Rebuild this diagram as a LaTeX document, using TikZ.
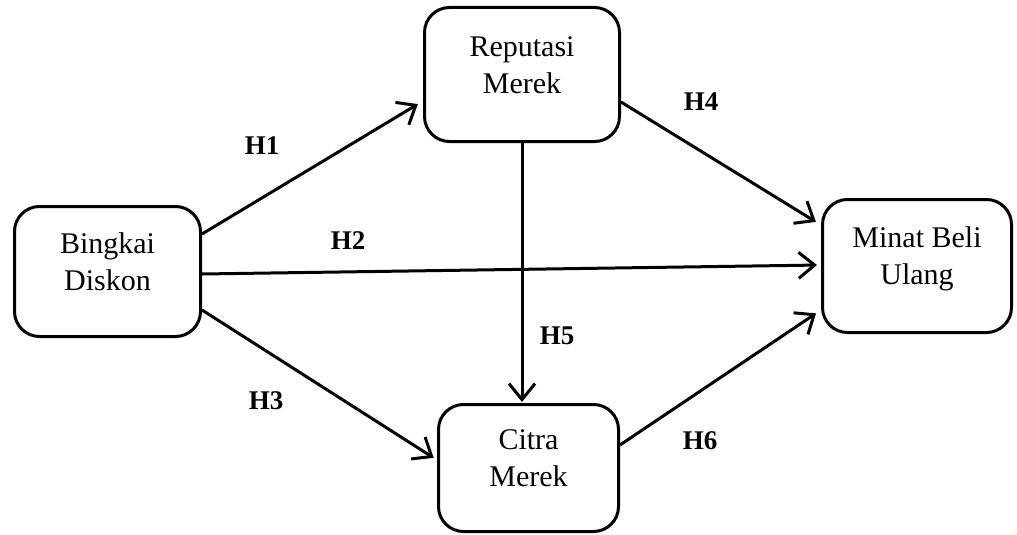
\documentclass[tikz,border=0pt]{standalone}
\usepackage{fontspec}
\setmainfont{Liberation Serif}
\usetikzlibrary{arrows.meta}
\tikzset{
  box/.style={draw=black, line width=3pt, rounded corners=25pt, fill=white, inner sep=0pt},
  boxtext/.style={align=center, inner sep=0pt, font=\fontsize{30}{37}\selectfont},
  hlabel/.style={inner sep=0pt, font=\fontsize{27}{30}\selectfont\bfseries},
  conn/.style={line width=3pt, -{Straight Barb[length=16pt, width=26pt, line width=3pt]}},
}
\begin{document}
\begin{tikzpicture}[x=1pt, y=-1pt]
\useasboundingbox[fill=white] (0,0) rectangle (1017,535);
% boxes
\node[box, minimum width=186pt, minimum height=130pt] (bd) at (107.5,271.5) {};
\node[box, minimum width=195pt, minimum height=134pt] (rm) at (522,74.5) {};
\node[box, minimum width=189pt, minimum height=133pt] (mb) at (917,266) {};
\node[box, minimum width=180pt, minimum height=127pt] (cm) at (528.5,468) {};
% texts
\node[boxtext] (bdt) at ([yshift=7.4pt]bd.center) {\strut Bingkai\\\strut Diskon};
\node[boxtext] (rmt) at ([yshift=7.4pt]rm.center) {\strut Reputasi\\\strut Merek};
\node[boxtext] (mbt) at ([yshift=7.4pt]mb.center) {\strut Minat Beli\\\strut Ulang};
\node[boxtext] (cmt) at ([yshift=7.4pt]cm.center) {\strut Citra\\\strut Merek};
% connectors
\draw[conn, shorten >=6pt] ([yshift=37.5pt]bd.east) -- ([yshift=-26.5pt]rm.west);
\draw[conn, shorten >=4pt] ([yshift=-2.5pt]bd.east) -- ([yshift=1pt]mb.west);
\draw[conn, shorten >=4pt] ([yshift=-38.5pt]bd.east) -- ([yshift=8pt]cm.west);
\draw[conn, shorten >=6pt] ([yshift=-27.5pt]rm.east) -- ([yshift=41pt]mb.west);
\draw[conn, shorten >=1pt] (rm.south) -- (rm.south |- cm.north);
\draw[conn, shorten >=6pt] ([yshift=23pt]cm.east) -- ([yshift=-44pt]mb.west);
% labels
\node[hlabel] (h1) at (262,146) {H1};
\node[hlabel] (h2) at (348,241) {H2};
\node[hlabel] (h3) at (266,401) {H3};
\node[hlabel] (h4) at (701,102) {H4};
\node[hlabel] (h5) at (557,336) {H5};
\node[hlabel] (h6) at (700,441) {H6};
\end{tikzpicture}
\end{document}
